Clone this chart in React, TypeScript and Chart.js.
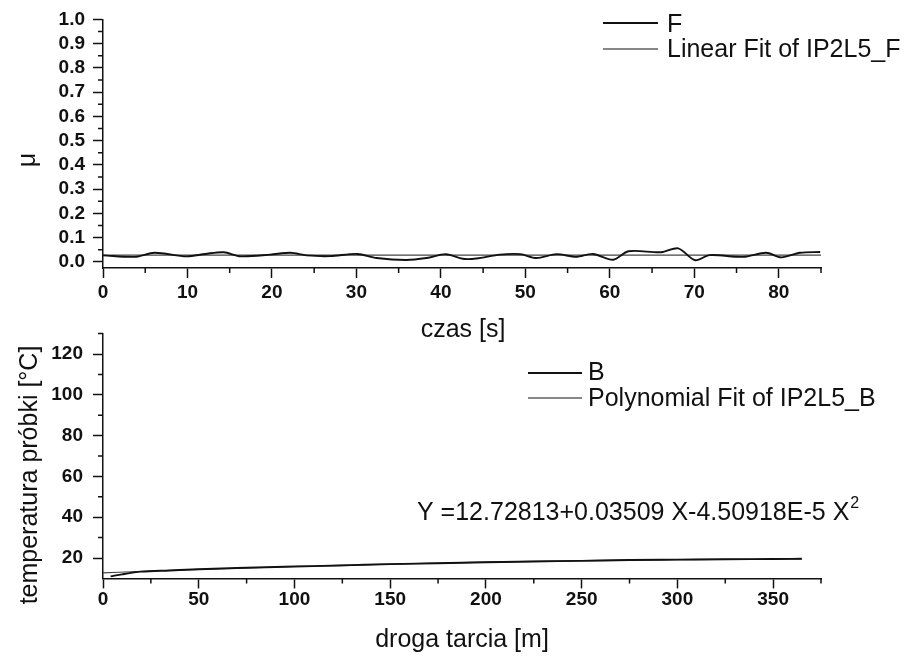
import React, { useEffect, useRef } from "react";
import { Chart, registerables } from "chart.js";

Chart.register(...registerables);

// ---------- Top chart: friction coefficient vs time ----------
const fTime = [0, 3.8, 6.1, 9.9, 12.1, 14.3, 16.3, 19.8, 22.2, 24.1, 26.9, 30.1, 32.4, 35.9, 38.3, 40.6, 42.6, 44.2, 47.0, 49.4, 51.3, 53.7, 56.0, 58.0, 60.4, 62.2, 66.1, 68.1, 70.1, 71.8, 75.8, 78.5, 80.3, 82.5, 84.9];
const fMu = [0.027, 0.021, 0.038, 0.023, 0.033, 0.040, 0.023, 0.030, 0.038, 0.027, 0.024, 0.033, 0.016, 0.008, 0.016, 0.032, 0.013, 0.014, 0.030, 0.032, 0.016, 0.032, 0.021, 0.033, 0.009, 0.044, 0.040, 0.056, 0.007, 0.028, 0.021, 0.038, 0.019, 0.038, 0.041];
const linFitTime = [0, 85];
const linFitMu = [0.028, 0.028];

const topXTicks = [0, 10, 20, 30, 40, 50, 60, 70, 80];
const topXMinor = [5, 15, 25, 35, 45, 55, 65, 75, 85];
const topYTicks = [0, 0.1, 0.2, 0.3, 0.4, 0.5, 0.6, 0.7, 0.8, 0.9, 1.0];
const topYMinor = [0.05, 0.15, 0.25, 0.35, 0.45, 0.55, 0.65, 0.75, 0.85, 0.95];

// ---------- Bottom chart: sample temperature vs sliding distance ----------
const bDist = [4, 10, 20, 35, 50, 70, 90, 110, 130, 150, 175, 200, 225, 250, 275, 300, 325, 350, 365];
const bTemp = [11.0, 12.0, 13.3, 13.9, 14.5, 15.1, 15.6, 16.0, 16.5, 17.0, 17.4, 17.9, 18.3, 18.6, 19.0, 19.2, 19.4, 19.5, 19.6];
const polyDist = [0, 25, 50, 75, 100, 150, 200, 250, 300, 365];
const polyTemp = [12.7, 13.6, 14.4, 15.1, 15.8, 17.0, 18.0, 18.7, 19.2, 19.5];

const botXTicks = [0, 50, 100, 150, 200, 250, 300, 350];
const botXMinor = [25, 75, 125, 175, 225, 275, 325, 375];
const botYTicks = [20, 40, 60, 80, 100, 120];
const botYMinor = [30, 50, 70, 90, 110, 130];

const FONT = '"Liberation Sans", Arial, Helvetica, sans-serif';
const INK = "#111";
const TICK_FONT = { family: FONT, size: 19, weight: "bold" as const };

function toPoints(xs: number[], ys: number[]) {
  return xs.map((x, i) => ({ x, y: ys[i] }));
}

function minorTicksPlugin(xMinor: number[], yMinor: number[]) {
  return {
    id: "minorTicks",
    afterDraw(chart: any) {
      const ctx = chart.ctx;
      const xs = chart.scales.x;
      const ys = chart.scales.y;
      const area = chart.chartArea;
      ctx.save();
      ctx.strokeStyle = INK;
      ctx.lineWidth = 1.5;
      ctx.beginPath();
      xMinor.forEach((v) => {
        const px = xs.getPixelForValue(v);
        ctx.moveTo(px, area.bottom);
        ctx.lineTo(px, area.bottom + 5);
      });
      yMinor.forEach((v) => {
        const py = ys.getPixelForValue(v);
        ctx.moveTo(area.left, py);
        ctx.lineTo(area.left - 5, py);
      });
      ctx.stroke();
      ctx.restore();
    },
  };
}

function legendRow(ctx: CanvasRenderingContext2D, x0: number, x1: number, ly: number, text: string, tx: number, baseline: number, lw: number) {
  ctx.strokeStyle = INK;
  ctx.lineWidth = lw;
  ctx.beginPath();
  ctx.moveTo(x0, ly);
  ctx.lineTo(x1, ly);
  ctx.stroke();
  ctx.fillStyle = INK;
  ctx.font = `25px ${FONT}`;
  ctx.textAlign = "left";
  ctx.textBaseline = "alphabetic";
  ctx.fillText(text, tx, baseline);
}

const topTextPlugin = {
  id: "topText",
  afterDraw(chart: any) {
    const ctx = chart.ctx as CanvasRenderingContext2D;
    const ds = chart.data.datasets;
    ctx.save();
    ctx.fillStyle = INK;
    ctx.font = `25px ${FONT}`;
    ctx.save();
    ctx.translate(35, 160);
    ctx.rotate(-Math.PI / 2);
    ctx.textAlign = "center";
    ctx.textBaseline = "alphabetic";
    ctx.fillText("μ", 0, 0);
    ctx.restore();
    ctx.textAlign = "center";
    ctx.textBaseline = "alphabetic";
    ctx.fillText("czas [s]", 463, 337);
    legendRow(ctx, 603, 658, 23, ds[0].label, 667, 32, 1.8);
    legendRow(ctx, 603, 658, 49, ds[1].label, 667, 57, 1.2);
    ctx.restore();
  },
};

const botTextPlugin = {
  id: "botText",
  afterDraw(chart: any) {
    const ctx = chart.ctx as CanvasRenderingContext2D;
    const ds = chart.data.datasets;
    ctx.save();
    ctx.fillStyle = INK;
    ctx.font = `25px ${FONT}`;
    ctx.save();
    ctx.translate(37, 475);
    ctx.rotate(-Math.PI / 2);
    ctx.textAlign = "center";
    ctx.textBaseline = "alphabetic";
    ctx.fillText("temperatura próbki [°C]", 0, 0);
    ctx.restore();
    ctx.textAlign = "center";
    ctx.textBaseline = "alphabetic";
    ctx.fillText("droga tarcia [m]", 462, 647);
    legendRow(ctx, 528, 582, 373, ds[0].label, 588, 380, 1.8);
    legendRow(ctx, 528, 582, 398, ds[1].label, 588, 406, 1.2);
    ctx.fillStyle = INK;
    ctx.font = `25px ${FONT}`;
    ctx.textAlign = "left";
    const main = "Y =12.72813+0.03509 X-4.50918E-5 X";
    ctx.fillText(main, 417, 520);
    const w = ctx.measureText(main).width;
    ctx.font = `16px ${FONT}`;
    ctx.fillText("2", 417 + w + 1, 508);
    ctx.restore();
  },
};

function axisCommon(extra: any) {
  return {
    type: "linear",
    grid: {
      display: true,
      drawOnChartArea: false,
      drawTicks: true,
      tickLength: 10,
      tickColor: INK,
      tickWidth: 1.5,
    },
    border: { display: true, color: INK, width: 1.5 },
    ...extra,
  };
}

export default function App() {
  const topRef = useRef<HTMLCanvasElement | null>(null);
  const botRef = useRef<HTMLCanvasElement | null>(null);

  useEffect(() => {
    if (!topRef.current || !botRef.current) return;

    const top = new Chart(topRef.current, {
      type: "line",
      data: {
        datasets: [
          {
            label: "F",
            data: toPoints(fTime, fMu),
            borderColor: INK,
            borderWidth: 1.9,
            pointRadius: 0,
            tension: 0.3,
            fill: false,
          },
          {
            label: "Linear Fit of IP2L5_F",
            data: toPoints(linFitTime, linFitMu),
            borderColor: "#444",
            borderWidth: 1.1,
            pointRadius: 0,
            fill: false,
          },
        ],
      },
      options: {
        animation: false,
        responsive: false,
        events: [],
        layout: { padding: { left: 0, right: 86, top: 19, bottom: 656 - 268 - 40 } },
        plugins: { legend: { display: false }, tooltip: { enabled: false }, title: { display: false } },
        scales: {
          x: axisCommon({
            min: 0,
            max: 85,
            afterBuildTicks: (s: any) => {
              s.ticks = topXTicks.map((v) => ({ value: v }));
            },
            afterFit: (s: any) => {
              s.height = 40;
            },
            ticks: {
              color: INK,
              font: TICK_FONT,
              padding: 3,
              maxRotation: 0,
              autoSkip: false,
              callback: (v: any) => String(v),
            },
          }),
          y: axisCommon({
            min: -0.025,
            max: 1.0,
            afterBuildTicks: (s: any) => {
              s.ticks = topYTicks.map((v) => ({ value: v }));
            },
            afterFit: (s: any) => {
              s.width = 103;
            },
            ticks: {
              color: INK,
              font: TICK_FONT,
              padding: 8,
              autoSkip: false,
              callback: (v: any) => Number(v).toFixed(1),
            },
          }),
        },
      } as any,
      plugins: [minorTicksPlugin(topXMinor, topYMinor), topTextPlugin],
    });

    const bot = new Chart(botRef.current, {
      type: "line",
      data: {
        datasets: [
          {
            label: "B",
            data: toPoints(bDist, bTemp),
            borderColor: INK,
            borderWidth: 1.9,
            pointRadius: 0,
            cubicInterpolationMode: "monotone",
            fill: false,
          },
          {
            label: "Polynomial Fit of IP2L5_B",
            data: toPoints(polyDist, polyTemp),
            borderColor: "#444",
            borderWidth: 1.1,
            pointRadius: 0,
            cubicInterpolationMode: "monotone",
            fill: false,
          },
        ],
      },
      options: {
        animation: false,
        responsive: false,
        events: [],
        layout: { padding: { left: 0, right: 86, top: 333.6, bottom: 656 - 578.4 - 40 } },
        plugins: { legend: { display: false }, tooltip: { enabled: false }, title: { display: false } },
        scales: {
          x: axisCommon({
            min: 0,
            max: 375,
            afterBuildTicks: (s: any) => {
              s.ticks = botXTicks.map((v) => ({ value: v }));
            },
            afterFit: (s: any) => {
              s.height = 40;
            },
            ticks: {
              color: INK,
              font: TICK_FONT,
              padding: 0,
              maxRotation: 0,
              autoSkip: false,
              callback: (v: any) => String(v),
            },
          }),
          y: axisCommon({
            min: 10,
            max: 130,
            afterBuildTicks: (s: any) => {
              s.ticks = botYTicks.map((v) => ({ value: v }));
            },
            afterFit: (s: any) => {
              s.width = 103;
            },
            ticks: {
              color: INK,
              font: TICK_FONT,
              padding: 10,
              autoSkip: false,
              callback: (v: any) => String(v),
            },
          }),
        },
      } as any,
      plugins: [minorTicksPlugin(botXMinor, botYMinor), botTextPlugin],
    });

    return () => {
      top.destroy();
      bot.destroy();
    };
  }, []);

  const canvasStyle: React.CSSProperties = {
    position: "absolute",
    left: 0,
    top: 0,
    width: 907,
    height: 656,
    display: "block",
  };

  return (
    <div style={{ position: "absolute", left: 0, top: 0, width: 907, height: 656, background: "#fff" }}>
      <canvas ref={topRef} width={907} height={656} style={canvasStyle} />
      <canvas ref={botRef} width={907} height={656} style={canvasStyle} />
    </div>
  );
}
